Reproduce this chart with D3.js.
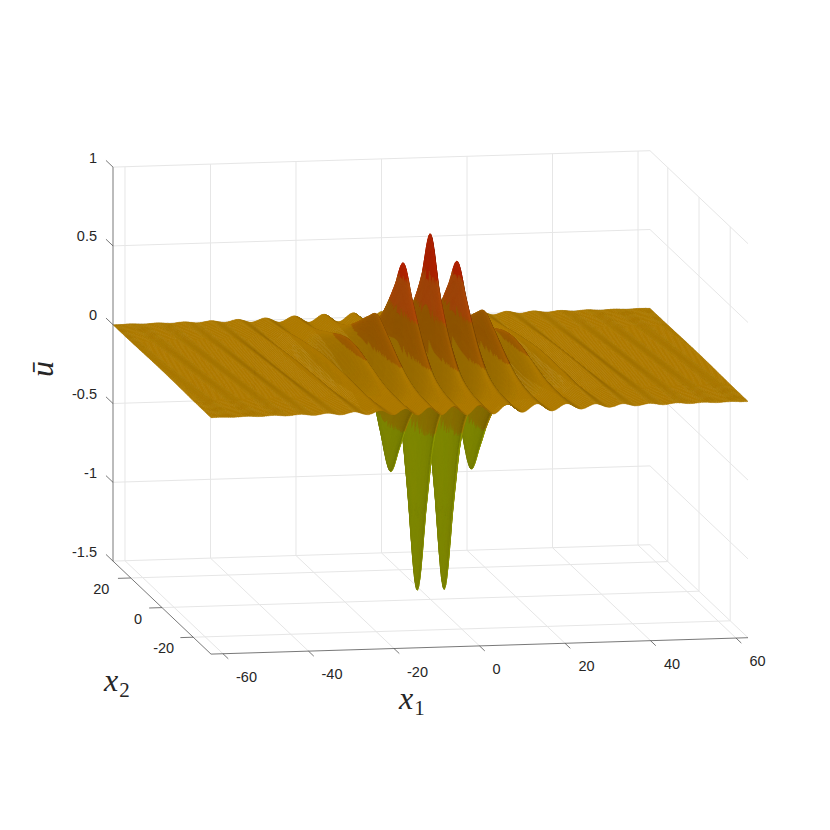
<!DOCTYPE html>
<html>
<head>
<meta charset="utf-8">
<script src="https://cdn.jsdelivr.net/npm/d3@7"></script>
<style>
    html, body { margin: 0; padding: 0; background: #fff; }
    text { font-family: "Liberation Sans", Arial, sans-serif; fill: #262626; }
    .math { font-family: "Liberation Serif", serif; font-style: italic; }
</style>
</head>
<body>
<svg id="chart" width="830" height="830"></svg>
<script>
// axis ranges and ticks
const x1Lim = [-62.8, 62.8];
const x2Lim = [-31.4, 31.4];
const zLim = [-1.5, 1];
const x1Ticks = [-60, -40, -20, 0, 20, 40, 60];
const x2Ticks = [-20, 0, 20];
const zTicks = [-1.5, -1, -0.5, 0, 0.5, 1];
const zTickLabels = ["-1.5", "-1", "-0.5", "0", "0.5", "1"];

// heights: one row per crest or trough (x1 = n*pi, n = |row index|),
// one column per |x2| station. the surface is mirrored around x1 = 0 and x2 = 0
const x2Stations = [0, 5, 9, 13, 18, 24, 31.4];
const crestHeights = [
    [0.82, 0.53, 0.35, 0.22, 0.105, 0.05, 0.03],
    [-1.44, -0.9, -0.48, -0.25, -0.11, -0.05, -0.03],
    [0.64, 0.46, 0.32, 0.2, 0.095, 0.045, 0.028],
    [-0.68, -0.5, -0.33, -0.2, -0.1, -0.045, -0.025],
    [0.32, 0.26, 0.2, 0.14, 0.08, 0.04, 0.025],
    [-0.28, -0.23, -0.17, -0.12, -0.07, -0.035, -0.022],
    [0.16, 0.145, 0.118, 0.09, 0.055, 0.032, 0.02],
    [-0.1, -0.09, -0.08, -0.065, -0.045, -0.028, -0.016],
    [0.07, 0.065, 0.058, 0.05, 0.036, 0.022, 0.013],
    [-0.05, -0.047, -0.043, -0.036, -0.027, -0.018, -0.011],
    [0.035, 0.033, 0.03, 0.026, 0.02, 0.014, 0.009],
    [-0.024, -0.023, -0.021, -0.019, -0.015, -0.011, -0.007],
    [0.018, 0.0175, 0.0165, 0.015, 0.012, 0.009, 0.006],
    [-0.015, -0.0145, -0.0135, -0.012, -0.01, -0.0075, -0.005],
    [0.012, 0.0115, 0.011, 0.01, 0.008, 0.006, 0.004],
    [-0.01, -0.0097, -0.0092, -0.0085, -0.0068, -0.005, -0.0032],
    [0.009, 0.0087, 0.0082, 0.0075, 0.006, 0.0043, 0.0027],
    [-0.0078, -0.0076, -0.0072, -0.0066, -0.0052, -0.0037, -0.0022],
    [0.0068, 0.0066, 0.0062, 0.0057, 0.0045, 0.0032, 0.0018],
    [-0.0058, -0.0056, -0.0053, -0.0049, -0.0039, -0.0027, -0.0015],
    [0.005, 0.0048, 0.0046, 0.0042, 0.0033, 0.0023, 0.0012],
    [-0.004, -0.0039, -0.0037, -0.0034, -0.0027, -0.0018, -0.001]
];
// how much each crest line leans, in x1 per unit of x2
const crestLean = [0, -0.005, -0.01, -0.02, -0.03, -0.04, -0.05, -0.06, -0.065, -0.07, -0.07,
    -0.07, -0.07, -0.07, -0.07, -0.07, -0.07, -0.07, -0.07, -0.07, -0.07, -0.07];

// colour bands of the surface
const bandLimits = [-0.35, -0.1, 0.115, 0.33, 0.55];
const bandColors = ["#959f00", "#a28300", "#ad7a00", "#a46000", "#b64d09", "#c12500"];

// projection of the box onto the page
const centerX = 430.5, centerY = 363;
const x1ToX = d3.scaleLinear().domain(x1Lim).range([-268.5, 268.5]);
const x2ToX = d3.scaleLinear().domain(x2Lim).range([49, -49]);
const x1ToY = d3.scaleLinear().domain(x1Lim).range([8.2, -8.2]);
const x2ToY = d3.scaleLinear().domain(x2Lim).range([46.5, -46.5]);
const zToY = d3.scaleLinear().domain(zLim).range([236.4, -157.6]);

function project(x1, x2, z) {
    return [
        centerX + x1ToX(x1) + x2ToX(x2),
        centerY + x1ToY(x1) + x2ToY(x2) + zToY(z)
    ];
}

const svg = d3.select("#chart");

function wallLine(g, a, b, color, width) {
    let p = project(a[0], a[1], a[2]);
    let q = project(b[0], b[1], b[2]);
    g.append("line")
        .attr("x1", p[0]).attr("y1", p[1])
        .attr("x2", q[0]).attr("y2", q[1])
        .attr("stroke", color)
        .attr("stroke-width", width);
}

// grid on the back wall, the right wall and the floor
const gridColor = "#e6e6e6";
const grid = svg.append("g");
x1Ticks.forEach(function (t) {
    wallLine(grid, [t, x2Lim[1], zLim[0]], [t, x2Lim[1], zLim[1]], gridColor, 1);
    wallLine(grid, [t, x2Lim[0], zLim[0]], [t, x2Lim[1], zLim[0]], gridColor, 1);
});
x2Ticks.forEach(function (t) {
    wallLine(grid, [x1Lim[1], t, zLim[0]], [x1Lim[1], t, zLim[1]], gridColor, 1);
    wallLine(grid, [x1Lim[0], t, zLim[0]], [x1Lim[1], t, zLim[0]], gridColor, 1);
});
zTicks.forEach(function (t) {
    wallLine(grid, [x1Lim[0], x2Lim[1], t], [x1Lim[1], x2Lim[1], t], gridColor, 1);
    wallLine(grid, [x1Lim[1], x2Lim[1], t], [x1Lim[1], x2Lim[0], t], gridColor, 1);
});

// value of one crest at a given x2, smooth between the stations
function crestAt(row, x2) {
    let a = Math.min(Math.abs(x2), 31.4);
    let s = x2Stations;
    let v = crestHeights[row];
    let i = Math.min(d3.bisectRight(s, a) - 1, s.length - 2);
    let h = s[i + 1] - s[i];
    let t = (a - s[i]) / h;
    let m0 = i == 0 ? 0 : (v[i + 1] - v[i - 1]) / (s[i + 1] - s[i - 1]);
    let m1 = i + 2 < s.length ? (v[i + 2] - v[i]) / (s[i + 2] - s[i]) : (v[i + 1] - v[i]) / h;
    return (2 * t * t * t - 3 * t * t + 1) * v[i]
        + (t * t * t - 2 * t * t + t) * h * m0
        + (-2 * t * t * t + 3 * t * t) * v[i + 1]
        + (t * t * t - t * t) * h * m1;
}

// drawing mesh, finer around the middle where the walls are steep
const x1Mesh = [];
for (let x = x1Lim[0]; x < -24; x += 0.2) x1Mesh.push(x);
for (let x = -24; x < 24; x += 0.1) x1Mesh.push(x);
for (let x = 24; x < x1Lim[1]; x += 0.2) x1Mesh.push(x);
x1Mesh.push(x1Lim[1]);
const x2Mesh = [];
for (let y = x2Lim[0]; y < -20; y += 0.8) x2Mesh.push(y);
for (let y = -20; y < 20; y += 0.6) x2Mesh.push(y);
for (let y = 20; y < x2Lim[1]; y += 0.8) x2Mesh.push(y);
x2Mesh.push(x2Lim[1]);

// heights along one mesh row
function rowHeights(x2) {
    let last = crestHeights.length - 1;
    let place = [], value = [];
    for (let n = -last; n <= last; n++) {
        let r = Math.abs(n);
        place.push(n * Math.PI + crestLean[r] * x2);
        value.push(crestAt(r, x2));
    }
    return x1Mesh.map(function (x) {
        let i = Math.max(0, Math.min(d3.bisectRight(place, x) - 1, place.length - 2));
        let t = Math.max(0, Math.min(1, (x - place[i]) / (place[i + 1] - place[i])));
        return value[i] + (value[i + 1] - value[i]) * (3 * t * t - 2 * t * t * t);
    });
}

const heights = x2Mesh.map(rowHeights);

// light and shading
const light = [-0.45, -0.2, 0.87];
const slopeX1 = 30, slopeX2 = 6;
const shadeLevels = 200;

function shadeOf(gx, gy) {
    let nx = -gx * slopeX1, ny = -gy * slopeX2;
    let len = Math.sqrt(nx * nx + ny * ny + 1);
    let d = Math.abs(nx * light[0] + ny * light[1] + light[2]) / len;
    return Math.min(1, 0.7 + 0.33 * d);
}

function cellColor(z, shade) {
    let band = d3.bisectRight(bandLimits, z);
    let level = Math.round(shade * shadeLevels);
    let c = d3.rgb(bandColors[band]);
    let k = level / shadeLevels;
    return d3.rgb(c.r * k, c.g * k, c.b * k).formatHex();
}

// back to front, far side first, so nearer cells cover farther ones
const runs = [];
for (let j = x2Mesh.length - 2; j >= 0; j--) {
    let current = null;
    for (let i = x1Mesh.length - 2; i >= 0; i--) {
        let a = heights[j][i], b = heights[j][i + 1];
        let c = heights[j + 1][i + 1], d = heights[j + 1][i];
        let dx = x1Mesh[i + 1] - x1Mesh[i], dy = x2Mesh[j + 1] - x2Mesh[j];
        let gx = ((b + c) - (a + d)) / (2 * dx);
        let gy = ((c + d) - (a + b)) / (2 * dy);
        let color = cellColor((a + b + c + d) / 4, shadeOf(gx, gy));
        let pts = [
            project(x1Mesh[i], x2Mesh[j], a),
            project(x1Mesh[i + 1], x2Mesh[j], b),
            project(x1Mesh[i + 1], x2Mesh[j + 1], c),
            project(x1Mesh[i], x2Mesh[j + 1], d)
        ];
        if (d3.polygonArea(pts) < 0) pts.reverse();
        let piece = "M" + pts.map(function (p) { return p[0].toFixed(1) + "," + p[1].toFixed(1); }).join("L") + "Z";
        if (current && current.color == color) {
            current.d.push(piece);
        } else {
            current = { color: color, d: [piece] };
            runs.push(current);
        }
    }
}

svg.append("g").selectAll("path")
    .data(runs)
    .enter().append("path")
    .attr("d", function (r) { return r.d.join(""); })
    .attr("fill", function (r) { return r.color; })
    .attr("stroke", function (r) { return r.color; })
    .attr("stroke-width", 0.4)
    .attr("stroke-linejoin", "round");

// axes
const axisColor = "#555";
const axes = svg.append("g");
wallLine(axes, [x1Lim[0], x2Lim[0], zLim[0]], [x1Lim[1], x2Lim[0], zLim[0]], axisColor, 0.8);
wallLine(axes, [x1Lim[0], x2Lim[0], zLim[0]], [x1Lim[0], x2Lim[1], zLim[0]], axisColor, 0.8);
wallLine(axes, [x1Lim[0], x2Lim[1], zLim[0]], [x1Lim[0], x2Lim[1], zLim[1]], axisColor, 0.8);

function tickLabel(x, y, s, anchor) {
    axes.append("text")
        .attr("x", x).attr("y", y)
        .attr("text-anchor", anchor)
        .attr("font-size", "14.5px")
        .text(s);
}

x1Ticks.forEach(function (t) {
    wallLine(axes, [t, x2Lim[0], zLim[0]], [t, x2Lim[0] - 3.4, zLim[0]], axisColor, 0.8);
    let p = project(t, x2Lim[0], zLim[0]);
    tickLabel(p[0] + (t == 0 ? 17 : (t > 0 ? 21.5 : 23.5)), p[1] + 28, String(t), "middle");
});
x2Ticks.forEach(function (t) {
    wallLine(axes, [x1Lim[0], t, zLim[0]], [x1Lim[0] - 3, t, zLim[0]], axisColor, 0.8);
    let p = project(x1Lim[0], t, zLim[0]);
    tickLabel(p[0] - (t == 0 ? 24 : 29.5), p[1] + 16, String(t), "middle");
});
zTicks.forEach(function (t, i) {
    wallLine(axes, [x1Lim[0], x2Lim[1], t], [x1Lim[0], x2Lim[1] + 4.5, t], axisColor, 0.8);
    let p = project(x1Lim[0], x2Lim[1], t);
    tickLabel(p[0] - 16, p[1] - 4.5, zTickLabels[i], "end");
});

// axis titles
function subLabel(x, y, name, sub) {
    let t = svg.append("text")
        .attr("class", "math")
        .attr("x", x).attr("y", y)
        .attr("font-size", "32px")
        .text(name);
    t.append("tspan")
        .attr("dx", 1).attr("dy", 6)
        .attr("font-size", "21px")
        .attr("font-style", "normal")
        .text(sub);
}
subLabel(399, 709, "x", "1");
subLabel(104, 691, "x", "2");

svg.append("text")
    .attr("class", "math")
    .attr("transform", "translate(53,377) rotate(-90)")
    .attr("font-size", "32px")
    .text("ū");
</script>
</body>
</html>
